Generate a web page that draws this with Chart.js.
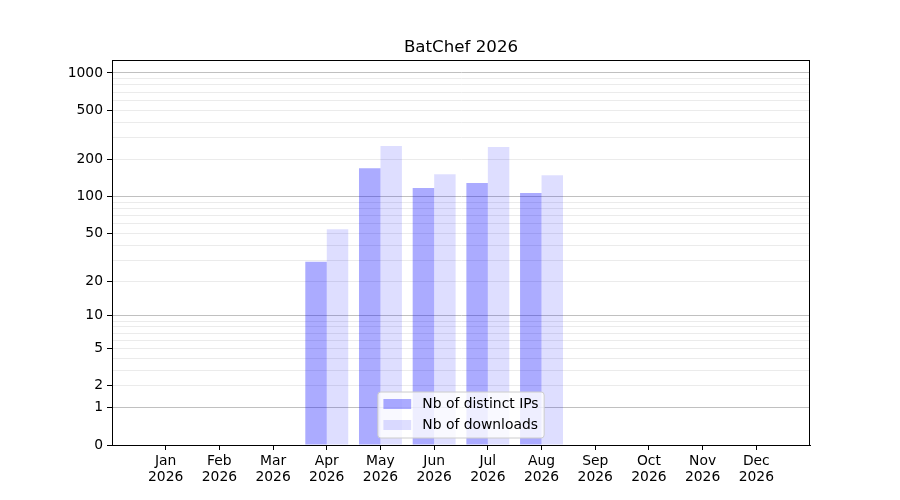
<!DOCTYPE html>
<html lang="en">
<head>
    <meta charset="UTF-8">
    <title>BatChef 2026</title>
    <script src="https://cdn.jsdelivr.net/npm/chart.js"></script>
    <style>
        body { margin: 0; background: #ffffff; }
        canvas { display: block; }
    </style>
</head>
<body>
    <canvas id="batchefChart" width="900" height="500"></canvas>
    <script>
        // Data
        const months = ['Jan', 'Feb', 'Mar', 'Apr', 'May', 'Jun', 'Jul', 'Aug', 'Sep', 'Oct', 'Nov', 'Dec'];
        const year = '2026';
        const distinctIPs = [0, 0, 0, 29, 170, 117, 129, 107, 0, 0, 0, 0];
        const downloads = [0, 0, 0, 54, 257, 152, 252, 149, 0, 0, 0, 0];
        const seriesNames = ['Nb of distinct IPs', 'Nb of downloads'];
        const seriesColors = ['rgba(0, 0, 255, 0.33)', 'rgba(0, 0, 255, 0.13)'];

        // y axis: log10(v + 1) scale
        const labeledTicks = [0, 1, 2, 5, 10, 20, 50, 100, 200, 500, 1000];
        const majorLines = [1, 10, 100, 1000];
        const minorTicks = [3, 4, 6, 7, 8, 9, 30, 40, 60, 70, 80, 90, 300, 400, 600, 700, 800, 900];
        const yTop = 1273;

        const tf = v => Math.log10(v + 1);
        const back = t => Math.round(Math.pow(10, t) - 1);

        const fontPx = 13.89;
        Chart.defaults.font.family = "'DejaVu Sans', sans-serif";
        Chart.defaults.font.size = fontPx;
        Chart.defaults.color = '#000000';

        // legend drawn inside the plot, lower center, like the original
        const insideLegend = {
            id: 'insideLegend',
            afterDraw(chart) {
                const ctx = chart.ctx;
                const area = chart.chartArea;
                ctx.save();
                ctx.font = fontPx + "px 'DejaVu Sans', sans-serif";
                const textW = Math.max(...seriesNames.map(n => ctx.measureText(n).width));
                const pad = 0.4 * fontPx, handleW = 2 * fontPx, gap = 0.8 * fontPx, rowH = 21;
                const w = pad * 2 + handleW + gap + textW;
                const h = 46;
                const x = (area.left + area.right) / 2 - w / 2;
                const y = area.bottom - 7 - h;
                ctx.beginPath();
                ctx.roundRect(x, y, w, h, 3);
                ctx.fillStyle = 'rgba(255, 255, 255, 0.8)';
                ctx.fill();
                ctx.strokeStyle = '#cccccc';
                ctx.lineWidth = 1;
                ctx.stroke();
                seriesNames.forEach((name, i) => {
                    const cy = y + 12 + i * rowH;
                    ctx.fillStyle = seriesColors[i];
                    ctx.fillRect(x + pad, cy - 5, handleW, 10);
                    ctx.fillStyle = '#000000';
                    ctx.textBaseline = 'middle';
                    ctx.fillText(name, x + pad + handleW + gap, cy);
                });
                ctx.restore();
            }
        };

        // full box round the axes
        const frame = {
            id: 'frame',
            afterDatasetsDraw(chart) {
                const a = chart.chartArea;
                const ctx = chart.ctx;
                ctx.save();
                ctx.strokeStyle = '#000000';
                ctx.lineWidth = 1;
                ctx.strokeRect(a.left + 0.5, a.top + 0.5, a.right - a.left - 1, a.bottom - a.top);
                ctx.restore();
            }
        };

        const config = {
            type: 'bar',
            data: {
                datasets: [
                    {
                        label: seriesNames[0],
                        data: distinctIPs.map((v, i) => ({ x: i, y: tf(v) })),
                        backgroundColor: seriesColors[0],
                        borderWidth: 0
                    },
                    {
                        label: seriesNames[1],
                        data: downloads.map((v, i) => ({ x: i, y: tf(v) })),
                        backgroundColor: seriesColors[1],
                        borderWidth: 0
                    }
                ]
            },
            options: {
                responsive: false,
                animation: false,
                categoryPercentage: 0.8,
                barPercentage: 1.0,
                layout: { padding: { left: 0, right: 90, top: 0, bottom: 0 } },
                scales: {
                    x: {
                        type: 'linear',
                        min: -1,
                        max: 12,
                        offset: false,
                        afterBuildTicks: scale => {
                            scale.ticks = months.map((m, i) => ({ value: i }));
                        },
                        afterFit: scale => { scale.height = 55; },
                        ticks: {
                            autoSkip: false,
                            maxRotation: 0,
                            padding: 4,
                            font: { lineHeight: 1.1 },
                            callback: v => [months[v], year]
                        },
                        grid: {
                            offset: false,
                            drawOnChartArea: false,
                            drawTicks: true,
                            tickLength: 5,
                            tickColor: '#000000'
                        },
                        border: { display: true, color: '#000000' }
                    },
                    y: {
                        type: 'linear',
                        min: 0,
                        max: tf(yTop),
                        afterBuildTicks: scale => {
                            const all = labeledTicks.concat(minorTicks).sort((a, b) => a - b);
                            scale.ticks = all.map(v => ({ value: tf(v) }));
                        },
                        afterFit: scale => { scale.width = 112; },
                        ticks: {
                            autoSkip: false,
                            padding: 4,
                            callback: v => {
                                const n = back(v);
                                return labeledTicks.includes(n) ? String(n) : '';
                            }
                        },
                        grid: {
                            drawTicks: true,
                            tickLength: 5,
                            lineWidth: 1,
                            color: c => {
                                const n = back(c.tick.value);
                                if (n === 0) return 'rgba(0,0,0,0)';
                                return majorLines.includes(n) ? '#c0c0c0' : '#ebebeb';
                            },
                            tickColor: c => labeledTicks.includes(back(c.tick.value)) ? '#000000' : 'rgba(0,0,0,0)'
                        },
                        border: { display: true, color: '#000000' }
                    }
                },
                plugins: {
                    legend: { display: false },
                    tooltip: { enabled: false },
                    title: {
                        display: true,
                        text: 'BatChef 2026',
                        fullSize: false,
                        color: '#000000',
                        font: { size: 16.67, weight: 'normal', lineHeight: 1.2 },
                        padding: { top: 38, bottom: 2 }
                    }
                }
            },
            plugins: [frame, insideLegend]
        };

        new Chart(document.getElementById('batchefChart').getContext('2d'), config);
    </script>
</body>
</html>
